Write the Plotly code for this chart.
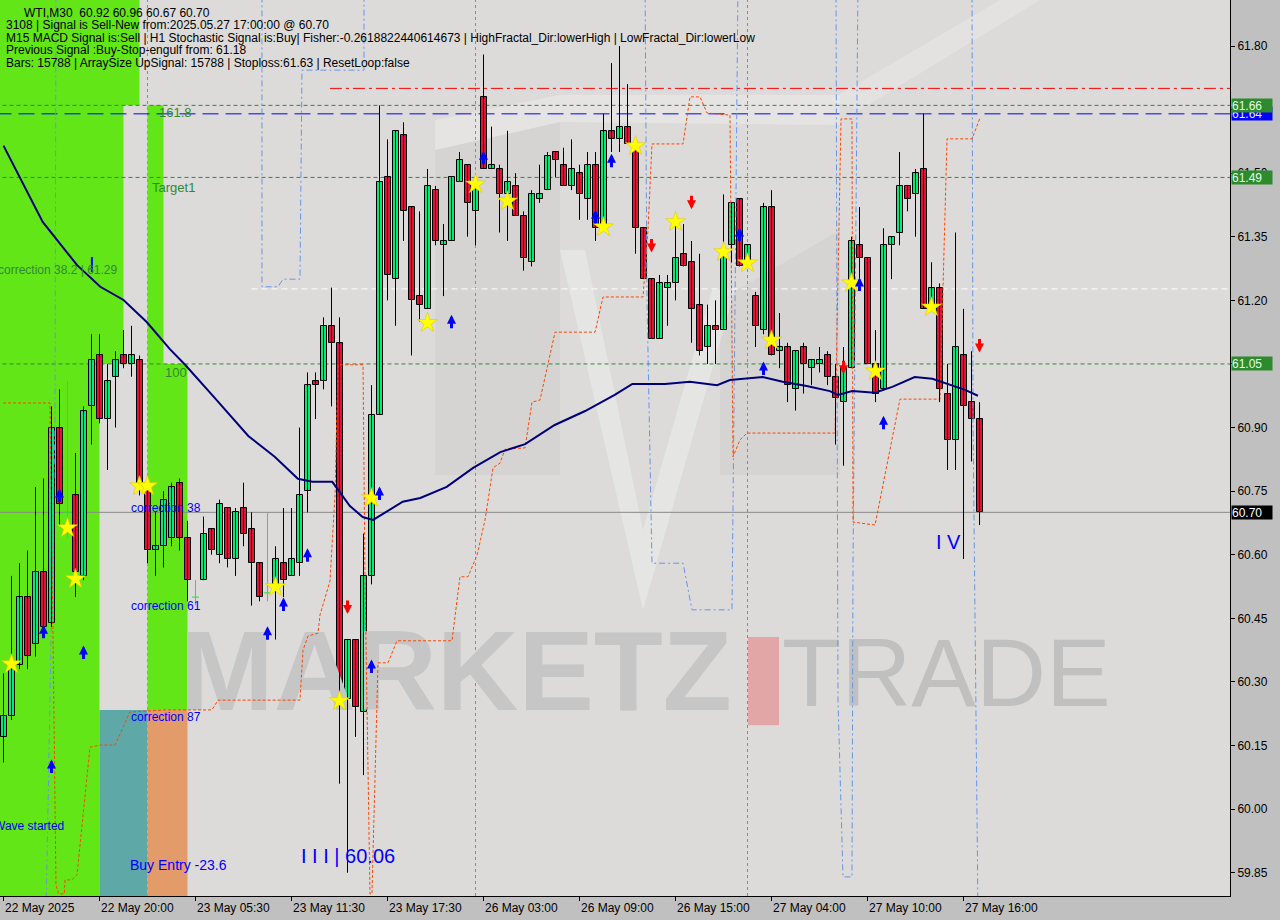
import plotly.graph_objects as go

# ---------------- data ----------------
opens = [60.17, 60.22, 60.34, 60.50, 60.39, 60.56, 60.44, 60.90, 60.70, 60.74,
         60.55, 60.95, 61.07, 60.92, 61.02, 61.07, 61.05, 61.06, 60.75, 60.61,
         60.62, 60.64, 60.77, 60.64, 60.50, 60.54, 60.66, 60.60, 60.71, 60.59,
         60.71, 60.66, 60.58, 60.51, 60.53, 60.58, 60.55, 60.58, 60.75, 61.01,
         61.01, 61.14, 61.10, 60.26, 60.40, 60.23, 60.55, 60.93, 61.49, 61.25,
         61.59, 61.42, 61.21, 61.18, 61.46, 61.33, 61.34, 61.48, 61.52, 61.41,
         61.68, 61.51, 61.51, 61.45, 61.47, 61.40, 61.29, 61.44, 61.46, 61.55,
         61.52, 61.47, 61.50, 61.44, 61.52, 61.37, 61.60, 61.58, 61.61, 61.57,
         61.37, 61.25, 61.11, 61.23, 61.24, 61.31, 61.29, 61.19, 61.09, 61.14,
         61.13, 61.33, 61.44, 61.29, 61.21, 61.13, 61.42, 61.08, 61.09, 60.99,
         61.09, 61.04, 61.05, 61.07, 61.02, 60.96, 61.04, 61.33, 61.30, 61.05,
         60.99, 61.33, 61.36, 61.47, 61.45, 61.51, 61.19, 61.23, 60.98, 60.87,
         61.07, 60.96, 60.92]
highs = [60.32, 60.55, 60.58, 60.61, 60.76, 60.78, 60.95, 60.99, 61.01, 60.84,
         60.95, 61.12, 61.12, 61.05, 61.08, 61.13, 61.14, 61.07, 60.78, 60.70,
         60.75, 60.77, 60.78, 60.68, 60.54, 60.69, 60.66, 60.73, 60.71, 60.71,
         60.77, 60.70, 60.58, 60.70, 60.62, 60.71, 60.71, 60.90, 61.03, 61.03,
         61.16, 61.23, 61.16, 60.40, 60.40, 60.65, 61.00, 61.66, 61.58, 61.60,
         61.62, 61.42, 61.41, 61.51, 61.47, 61.38, 61.49, 61.55, 61.52, 61.48,
         61.78, 61.61, 61.52, 61.60, 61.50, 61.41, 61.46, 61.52, 61.55, 61.55,
         61.56, 61.58, 61.52, 61.55, 61.55, 61.64, 61.76, 61.80, 61.71, 61.57,
         61.37, 61.25, 61.26, 61.26, 61.40, 61.38, 61.34, 61.31, 61.19, 61.20,
         61.45, 61.43, 61.44, 61.33, 61.22, 61.43, 61.46, 61.17, 61.10, 61.08,
         61.10, 61.06, 61.09, 61.08, 61.05, 61.09, 61.35, 61.42, 61.30, 61.13,
         61.37, 61.35, 61.55, 61.47, 61.51, 61.64, 61.29, 61.24, 61.05, 61.36,
         61.18, 61.08, 60.96]
lows = [60.11, 60.21, 60.33, 60.33, 60.36, 60.41, 60.43, 60.67, 60.64, 60.50,
        60.54, 60.86, 60.91, 60.80, 60.90, 61.04, 61.02, 60.74, 60.58, 60.55,
        60.57, 60.62, 60.61, 60.49, 60.48, 60.54, 60.60, 60.58, 60.57, 60.55,
        60.62, 60.48, 60.49, 60.49, 60.40, 60.50, 60.55, 60.55, 60.70, 60.92,
        60.99, 60.95, 60.06, 59.85, 60.17, 60.08, 60.53, 60.93, 61.20, 61.14,
        61.34, 61.07, 61.15, 61.18, 61.33, 61.21, 61.34, 61.48, 61.35, 61.33,
        61.51, 61.51, 61.36, 61.34, 61.40, 61.27, 61.28, 61.43, 61.46, 61.49,
        61.47, 61.46, 61.39, 61.39, 61.34, 61.37, 61.55, 61.55, 61.57, 61.31,
        61.25, 61.11, 61.11, 61.14, 61.20, 61.28, 61.10, 61.07, 61.05, 61.05,
        61.13, 61.29, 61.28, 61.28, 61.09, 61.12, 61.07, 61.04, 60.96, 60.94,
        60.98, 61.00, 61.03, 61.00, 60.86, 60.81, 61.04, 61.24, 61.05, 60.96,
        60.99, 61.25, 61.33, 61.41, 61.35, 61.18, 61.18, 60.96, 60.80, 60.80,
        60.59, 60.82, 60.67]
closes = [60.22, 60.34, 60.50, 60.36, 60.56, 60.43, 60.90, 60.72, 60.70, 60.56,
          60.94, 61.06, 60.92, 61.01, 61.06, 61.05, 61.07, 60.77, 60.61, 60.62,
          60.73, 60.76, 60.64, 60.54, 60.50, 60.65, 60.61, 60.72, 60.59, 60.70,
          60.65, 60.58, 60.50, 60.51, 60.59, 60.54, 60.59, 60.74, 61.00, 61.00,
          61.14, 61.10, 60.26, 60.40, 60.24, 60.55, 60.93, 61.48, 61.26, 61.60,
          61.41, 61.20, 61.19, 61.47, 61.34, 61.34, 61.49, 61.53, 61.43, 61.48,
          61.51, 61.52, 61.45, 61.48, 61.40, 61.30, 61.45, 61.45, 61.54, 61.53,
          61.47, 61.51, 61.45, 61.52, 61.37, 61.60, 61.58, 61.61, 61.57, 61.37,
          61.25, 61.11, 61.24, 61.24, 61.30, 61.28, 61.18, 61.08, 61.14, 61.13,
          61.31, 61.43, 61.28, 61.33, 61.14, 61.42, 61.07, 61.09, 61.00, 61.08,
          61.05, 61.06, 61.06, 61.02, 60.97, 61.04, 61.34, 61.30, 61.05, 60.98,
          61.33, 61.35, 61.47, 61.44, 61.50, 61.18, 61.23, 60.99, 60.87, 61.09,
          60.95, 60.92, 60.70]

date_idx = [0, 12, 24, 36, 48, 60, 72, 84, 96, 108, 120]
date_labels = ["22 May 2025", "22 May 20:00", "23 May 05:30", "23 May 11:30",
               "23 May 17:30", "26 May 03:00", "26 May 09:00", "26 May 15:00",
               "27 May 04:00", "27 May 10:00", "27 May 16:00"]
price_ticks = [59.85, 60.00, 60.15, 60.30, 60.45, 60.60, 60.75, 60.90,
               61.05, 61.20, 61.35, 61.50, 61.65, 61.80]

# moving average (bar index, price)
ma_idx = [0, 4.9, 9.2, 12.1, 15, 17.9, 20.8, 22.7, 26.4, 30.6, 33.9, 36.8, 38.6,
          41.1, 43.3, 44.9, 46.2, 47.9, 49.9, 52.1, 55.4, 58.7, 62.1, 65.2, 68.9,
          72.7, 76.4, 78.6, 82.7, 85.8, 89.2, 90.8, 94.9, 97.4, 100.4, 103.3,
          104.3, 106.1, 108.9, 111.1, 113.9, 116.1, 118.1, 120.2, 121.8]
ma_val = [61.565, 61.385, 61.283, 61.232, 61.201, 61.149, 61.085, 61.048, 60.970,
          60.880, 60.831, 60.779, 60.772, 60.772, 60.715, 60.689, 60.682, 60.701,
          60.725, 60.734, 60.760, 60.805, 60.842, 60.861, 60.906, 60.939, 60.977,
          61.003, 61.003, 61.008, 61.000, 61.012, 61.019, 61.008, 60.998, 60.986,
          60.977, 60.986, 60.982, 60.996, 61.019, 61.015, 61.003, 60.989, 60.975]

# trailing-stop step line (orange dotted)
trail_idx = [-0.06, 5.81, 6.19, 6.56, 6.9, 7.6, 7.69, 8.56, 9.19, 10.81, 12.06,
             13.94, 15.81, 20.19, 26.06, 26.81, 37.06, 37.44, 38.06, 39.31, 39.56,
             40.81, 41.44, 41.81, 44.94, 45.19, 45.81, 46.06, 46.81, 48.06, 49.19,
             56.06, 57.06, 58.06, 59.19, 60.19, 61.19, 62.06, 62.69, 65.19, 66.06,
             67.06, 68.94, 73.94, 74.94, 79.94, 80.56, 81.06, 84.94, 85.81, 87.06,
             87.94, 90.81, 91.19, 92.06, 92.94, 103.94, 104.69, 106.06, 106.19,
             108.94, 112.06, 117.06, 117.94, 121.06, 122.06]
trail_val = [60.958, 60.958, 60.408, 59.821, 59.80, 59.80, 59.833, 59.833, 59.845,
             60.146, 60.151, 60.151, 60.229, 60.234, 60.234, 60.257, 60.257, 60.375,
             60.408, 60.415, 60.458, 60.538, 60.741, 61.048, 61.048, 60.540, 59.80,
             59.80, 60.345, 60.345, 60.397, 60.397, 60.548, 60.548, 60.599, 60.682,
             60.805, 60.816, 60.849, 60.852, 60.960, 60.965, 61.125, 61.125, 61.208,
             61.208, 61.366, 61.569, 61.569, 61.680, 61.680, 61.642, 61.637, 60.831,
             60.871, 60.887, 60.887, 61.628, 61.628, 60.677, 60.670, 60.967, 60.967,
             61.581, 61.581, 61.630]

# blue dash-dot channel lines (None separates pieces)
chan_idx = [6.56, 6.44, 5.81, 5.31, None,
            32.31, 32.31, 34.31, 34.94, 37.06, 37.31, 45.06, 45.06, None,
            80.19, 80.44, 81.06, 84.94, 86.06, 91.06, 91.44, 91.81, None,
            104.06, 104.31, 104.94, 106.06, 106.19, 106.81, None,
            121.06, 121.19, 121.81]
chan_val = [61.95, 60.918, 60.257, 59.75, None,
            61.95, 61.232, 61.232, 61.250, 61.250, 61.743, 61.743, 61.95, None,
            61.95, 61.201, 60.580, 60.580, 60.470, 60.470, 61.201, 61.95, None,
            61.95, 60.257, 59.840, 59.840, 60.587, 61.95, None,
            61.95, 60.918, 59.75]

star_idx = [1, 8, 9, 17, 18, 34, 42, 46, 53, 59, 63, 75, 79, 84, 90, 93, 96, 106, 109, 116]
star_val = [60.342, 60.663, 60.543, 60.762, 60.762, 60.524, 60.255, 60.734, 61.147,
            61.474, 61.434, 61.373, 61.564, 61.385, 61.314, 61.288, 61.106, 61.241,
            61.033, 61.184]

up_idx = [6, 5, 10, 7, 38, 35, 33, 47, 46, 56, 60, 74, 76, 92, 95, 107, 110]
up_tip = [60.117, 60.435, 60.386, 60.756, 60.615, 60.499, 60.431, 60.761, 60.353,
          61.166, 61.553, 61.414, 61.546, 61.372, 61.056, 61.254, 60.928]
down_idx = [43, 81, 86, 105, 122]
down_tip = [60.460, 61.313, 61.415, 61.026, 61.077]

# level lines: (price, start bar, colour, dash)
level_price = [61.70, 61.66, 61.64, 61.49, 61.227, 61.05, 60.70]
level_start = [40.8, -1, -1, -1, 31, -1, -1]
level_color = ["#ff0000", "#2e8b2e", "#0000ff", "#2e8b2e", "#ffffff", "#2e8b2e", "#8a8a8a"]
level_dash = ["12px,4px,3px,4px", "4px,3px", "16px,7px", "4px,3px", "6px,4px", "4px,3px", "solid"]

header = ["WTI,M30  60.92 60.96 60.67 60.70",
          "3108 | Signal is Sell-New from:2025.05.27 17:00:00 @ 60.70",
          "M15 MACD Signal is:Sell | H1 Stochastic Signal is:Buy| Fisher:-0.2618822440614673 | HighFractal_Dir:lowerHigh | LowFractal_Dir:lowerLow",
          "Previous Signal :Buy-Stop-engulf from: 61.18",
          "Bars: 15788 | ArraySize UpSignal: 15788 | Stoploss:61.63 | ResetLoop:false"]

# ---------------- figure ----------------
YMIN, YMAX = 59.795, 61.9085
XMIN, XMAX = -0.4375, 153.31
PW, PH = 1230.0, 896.0
FONT = "Liberation Sans, Arial, sans-serif"
UP_C, DN_C, DOJI_C = "#12e27c", "#dc143c", "#33dd33"


def px(x):
    return x / PW


def py(y):
    return 1 - y / PH


fig = go.Figure()

# watermark (as first traces so it sits under the candles)
fig.add_trace(go.Scatter(x=[22.0], y=[60.30], mode="text", text=["MARKETZ"],
                         textposition="middle right",
                         textfont=dict(family="Liberation Sans", size=113, color="#c6c6c6",
                                       weight="bold"),
                         hoverinfo="skip", cliponaxis=True))
fig.add_trace(go.Scatter(x=[97.3], y=[60.30], mode="text", text=["TRADE"],
                         textposition="middle right",
                         textfont=dict(family="Liberation Sans", size=97, color="#c0c0c0"),
                         hoverinfo="skip", cliponaxis=True))

# channel lines & trailing line
fig.add_trace(go.Scatter(x=chan_idx, y=chan_val, mode="lines",
                         line=dict(color="#6495ed", width=1, dash="6px,3px,2px,3px"),
                         hoverinfo="skip", connectgaps=False))
fig.add_trace(go.Scatter(x=trail_idx, y=trail_val, mode="lines",
                         line=dict(color="#ff4500", width=1, dash="3px,2px"),
                         hoverinfo="skip"))

# candles
n = len(opens)
wx, wy, dx, dy, dmx, dmy = [], [], [], [], [], []
ux, uy, ub, rx, ry, rb = [], [], [], [], [], []
for i in range(n):
    o, h, l, c = opens[i], highs[i], lows[i], closes[i]
    if abs(c - o) < 1e-9:
        dx += [i, i, None]
        dy += [l, h, None]
        dmx.append(i)
        dmy.append(o)
        continue
    wx += [i, i, None]
    wy += [l, h, None]
    if c > o:
        ux.append(i); uy.append(c - o); ub.append(o)
    else:
        rx.append(i); ry.append(o - c); rb.append(c)

fig.add_trace(go.Scatter(x=wx, y=wy, mode="lines", line=dict(color="black", width=1),
                         hoverinfo="skip"))
fig.add_trace(go.Scatter(x=dx, y=dy, mode="lines", line=dict(color=DOJI_C, width=1),
                         hoverinfo="skip"))
fig.add_trace(go.Scatter(x=dmx, y=dmy, mode="markers",
                         marker=dict(symbol="line-ew", size=5, line=dict(color=DOJI_C, width=1)),
                         hoverinfo="skip"))
fig.add_trace(go.Bar(x=ux, y=uy, base=ub, width=0.75,
                     marker=dict(color=UP_C, line=dict(color="black", width=1))))
fig.add_trace(go.Bar(x=rx, y=ry, base=rb, width=0.75,
                     marker=dict(color=DN_C, line=dict(color="black", width=1))))

# moving average
fig.add_trace(go.Scatter(x=ma_idx, y=ma_val, mode="lines", line=dict(color="#00007a", width=2),
                         hoverinfo="skip"))

# stars
fig.add_trace(go.Scatter(x=star_idx, y=star_val, mode="markers",
                         marker=dict(symbol="star", size=15, color="#ffff00",
                                     line=dict(color="#e0c800", width=0.6)),
                         hoverinfo="skip"))

# arrows
for i, p in zip(up_idx, up_tip):
    fig.add_annotation(x=i, y=p, xref="x", yref="y", text="", showarrow=True,
                       arrowhead=2, arrowsize=0.6, arrowwidth=3, arrowcolor="#0000ff",
                       ax=0, ay=15, standoff=0)
for i, p in zip(down_idx, down_tip):
    fig.add_annotation(x=i, y=p, xref="x", yref="y", text="", showarrow=True,
                       arrowhead=2, arrowsize=0.6, arrowwidth=3, arrowcolor="#ff0000",
                       ax=0, ay=-15, standoff=0)

# ---------------- shapes (below traces) ----------------
shapes = []
GREEN = "#63e617"
rects = [(-1, 12, 59.5, 62.1, GREEN), (-1, 15, 61.05, 62.1, GREEN), (-1, 17, 61.66, 62.1, GREEN),
         (18, 20, 61.05, 61.66, GREEN), (18, 23, 60.234, 61.05, GREEN),
         (12, 18, 59.5, 60.234, "#5fa8a8"), (18, 23, 59.5, 60.234, "#e39b6a")]
for x0, x1, y0, y1, col in rects:
    shapes.append(dict(type="rect", xref="x", yref="y", x0=x0, x1=x1, y0=y0, y1=y1,
                       fillcolor=col, line=dict(width=0), layer="below"))


def poly(pts):
    return "M " + " L ".join(f"{px(a):.4f},{py(b):.4f}" for a, b in pts) + " Z"


# logo watermark (paper coordinates)
shapes.append(dict(type="path", xref="paper", yref="paper",
                   path=poly([(435, 150), (560, 122), (560, 475), (435, 475)]),
                   fillcolor="rgba(0,0,0,0.03)", line=dict(width=0), layer="below"))
shapes.append(dict(type="path", xref="paper", yref="paper",
                   path=poly([(720, 300), (840, 230), (840, 475), (720, 475)]),
                   fillcolor="rgba(0,0,0,0.03)", line=dict(width=0), layer="below"))
shapes.append(dict(type="path", xref="paper", yref="paper",
                   path=poly([(560, 250), (643, 610), (735, 290), (712, 290), (643, 530), (585, 250)]),
                   fillcolor="rgba(255,255,255,0.28)", line=dict(width=0), layer="below"))
shapes.append(dict(type="path", xref="paper", yref="paper",
                   path=poly([(435, 120), (560, 95), (840, 95), (840, 125), (560, 122), (435, 150)]),
                   fillcolor="rgba(255,255,255,0.25)", line=dict(width=0), layer="below"))
shapes.append(dict(type="path", xref="paper", yref="paper",
                   path=poly([(830, 100), (1000, 0), (1040, 0), (860, 110)]),
                   fillcolor="rgba(255,255,255,0.2)", line=dict(width=0), layer="below"))
# red "I" of the watermark
shapes.append(dict(type="rect", xref="x", yref="y", x0=93.06, x1=96.94, y0=60.198, y1=60.406,
                   fillcolor="#e2a6a6", line=dict(width=0), layer="below"))

# vertical separators
for vx in [18, 59, 93]:
    shapes.append(dict(type="line", xref="x", yref="paper", x0=vx, x1=vx, y0=0, y1=1,
                       line=dict(color="#8c8c8c", width=1, dash="3px,3px"), layer="below"))

# level lines
for p, s, col, dsh in zip(level_price, level_start, level_color, level_dash):
    shapes.append(dict(type="line", xref="x", yref="y", x0=s, x1=XMAX, y0=p, y1=p,
                       line=dict(color=col, width=1, dash=dsh), layer="below"))

# blue tick mark near the 38.2 correction
shapes.append(dict(type="line", xref="x", yref="y", x0=11.05, x1=11.05, y0=61.267, y1=61.302,
                   line=dict(color="#0000ff", width=2)))

fig.update_layout(shapes=shapes)


# ---------------- texts ----------------
def txt(x, y, s, color="black", size=12, anchor="left"):
    fig.add_annotation(x=px(x), y=py(y), xref="paper", yref="paper", text=s,
                       showarrow=False, xanchor=anchor, yanchor="middle",
                       font=dict(family=FONT, size=size, color=color))


txt(22, 13, header[0])
for k, line in enumerate(header[1:]):
    txt(4, 25.5 + 12.4 * k, line)

LG = "#2f8a2f"
txt(157, 113, "161.8", LG, 13)
txt(150, 187, "Target1", LG, 13)
txt(-4, 270, "correction 38.2 | 61.29", LG, 12)
txt(163, 373, "100", LG, 13)
txt(129, 508, "correction 38", "#0000ff", 12)
txt(129, 606, "correction 61", "#0000ff", 12)
txt(129, 717, "correction 87", "#0000ff", 12)
txt(-8, 826, "Wave started", "#0000ff", 12)
txt(128, 865, "Buy Entry -23.6", "#0000ff", 14)
txt(299, 856, "I I I | 60.06", "#0000ff", 20)
txt(934, 542, "I V", "#0000ff", 20)

# date labels (left aligned at ticks)
for i, lab in zip(date_idx, date_labels):
    fig.add_annotation(x=i, y=0, xref="x", yref="paper", text=lab, showarrow=False,
                       xanchor="left", yanchor="top", xshift=-1, yshift=-3,
                       font=dict(family=FONT, size=12, color="black"))

# price boxes on the right axis
boxes = [(61.64, "61.64", "#0000ff", "#e8e8ff"), (61.66, "61.66", "#2d8a2d", "#e0ffe0"),
         (61.49, "61.49", "#2d8a2d", "#e0ffe0"), (61.05, "61.05", "#2d8a2d", "#e0ffe0"),
         (60.70, "60.70", "#000000", "#ffffff")]
for p, s, bg, fc in boxes:
    fig.add_annotation(x=1, y=p, xref="paper", yref="y", text=s, showarrow=False,
                       xanchor="left", yanchor="middle", xshift=1, align="left",
                       bgcolor=bg, width=40, borderpad=0, height=13,
                       font=dict(family=FONT, size=12, color=fc))

fig.update_layout(
    width=1280, height=920,
    margin=dict(l=0, r=50, t=0, b=24),
    paper_bgcolor="#c0c0c0", plot_bgcolor="#dcdbd9",
    showlegend=False, barmode="overlay", bargap=0,
    font=dict(family=FONT, size=12, color="black"),
)
fig.update_xaxes(range=[XMIN, XMAX], showgrid=False, zeroline=False, showline=True,
                 linecolor="black", linewidth=1, mirror=True, tickvals=date_idx,
                 ticktext=[""] * len(date_idx), ticks="outside", ticklen=4, tickcolor="black")
fig.update_yaxes(range=[YMIN, YMAX], side="right", showgrid=False, zeroline=False,
                 showline=True, linecolor="black", linewidth=1, mirror=True,
                 tickvals=price_ticks, ticktext=[f"{v:.2f}" for v in price_ticks],
                 ticks="outside", ticklen=4, tickcolor="black",
                 tickfont=dict(family=FONT, size=12, color="black"))

fig.write_html("out.html", config={"displayModeBar": False},
               post_script="document.body.style.margin='0';document.body.style.padding='0';")
